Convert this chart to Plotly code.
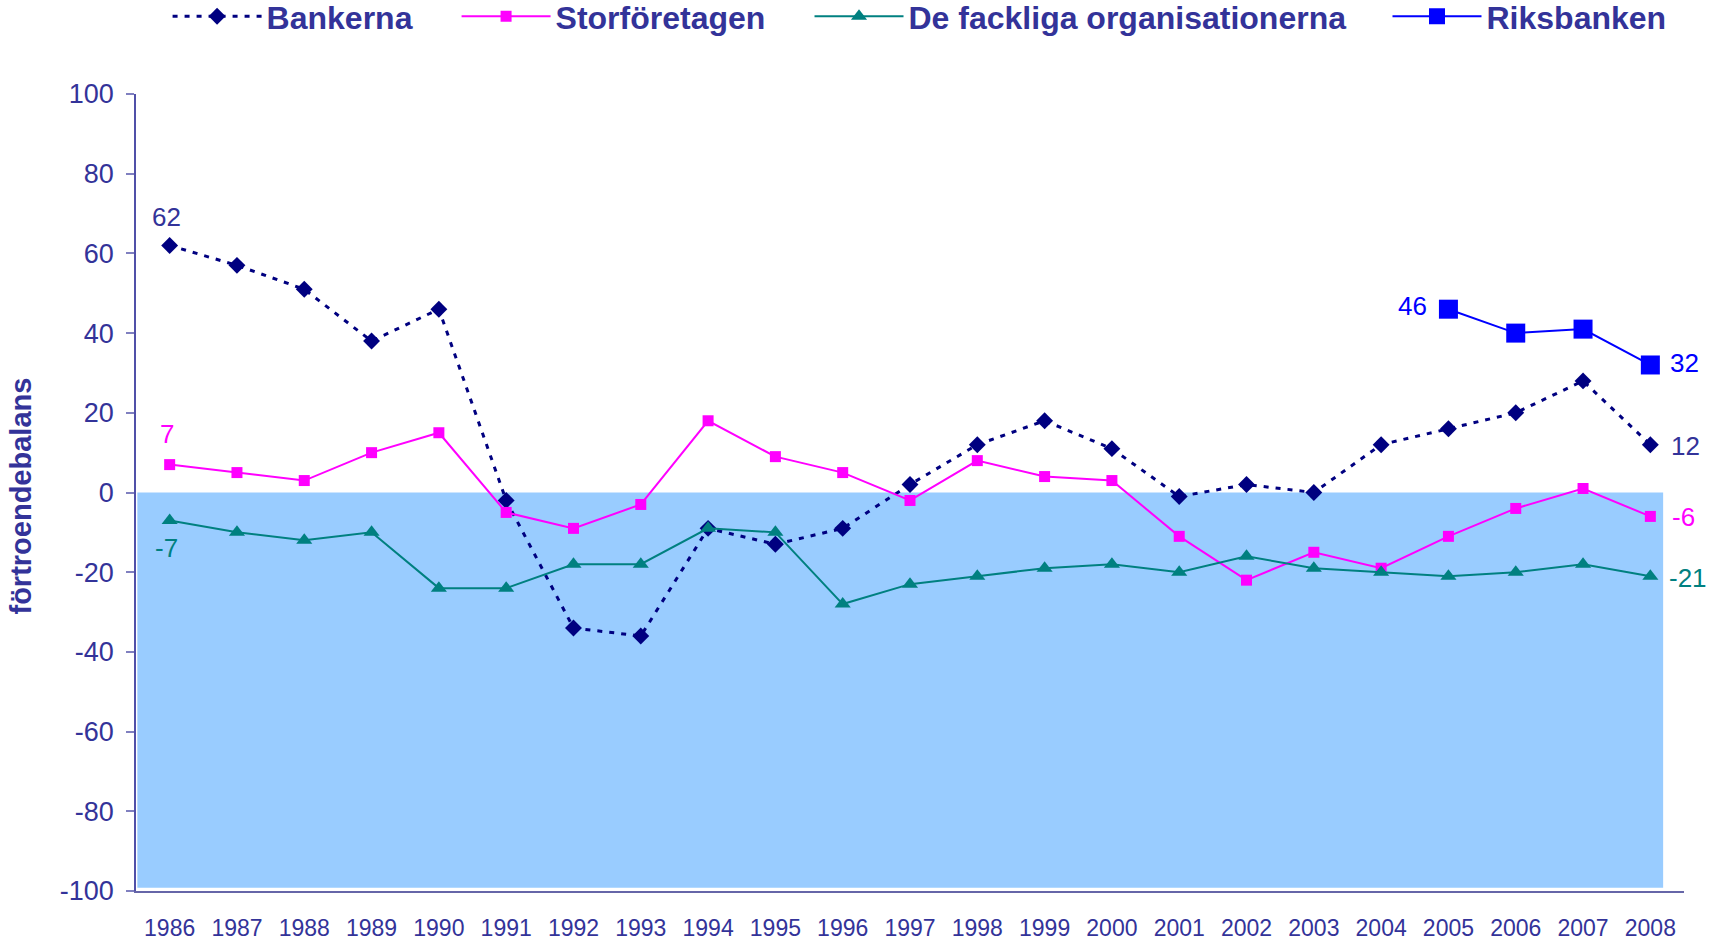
import plotly.graph_objects as go

years = list(range(1986, 2009))
bankerna = [62, 57, 51, 38, 46, -2, -34, -36, -9, -13, -9, 2, 12, 18, 11, -1, 2, 0, 12, 16, 20, 28, 12]
storforetagen = [7, 5, 3, 10, 15, -5, -9, -3, 18, 9, 5, -2, 8, 4, 3, -11, -22, -15, -19, -11, -4, 1, -6]
fackliga = [-7, -10, -12, -10, -24, -24, -18, -18, -9, -10, -28, -23, -21, -19, -18, -20, -16, -19, -20, -21, -20, -18, -21]
riks_years = [2005, 2006, 2007, 2008]
riksbanken = [46, 40, 41, 32]

y_ticks = [100, 80, 60, 40, 20, 0, -20, -40, -60, -80, -100]
y_ticktext = [str(v) for v in y_ticks]  # plain hyphen minus

C_TEXT = "#333399"
C_BANK = "#000080"
C_STOR = "#FF00FF"
C_FACK = "#008080"
C_RIKS = "#0000FF"
FONT = "Liberation Sans, Arial, sans-serif"

fig = go.Figure()

fig.add_trace(go.Scatter(
    x=years, y=bankerna, name="Bankerna", mode="lines+markers", legend="legend",
    line=dict(color=C_BANK, width=3, dash="5px,7px"),
    marker=dict(symbol="diamond", size=13, color=C_BANK)))
fig.add_trace(go.Scatter(
    x=years, y=storforetagen, name="Storföretagen", mode="lines+markers", legend="legend2",
    line=dict(color=C_STOR, width=2),
    marker=dict(symbol="square", size=11, color=C_STOR)))
fig.add_trace(go.Scatter(
    x=years, y=fackliga, name="De fackliga organisationerna", mode="lines+markers", legend="legend3",
    line=dict(color=C_FACK, width=2),
    marker=dict(symbol="triangle-up", size=14, color=C_FACK)))
fig.add_trace(go.Scatter(
    x=riks_years, y=riksbanken, name="Riksbanken", mode="lines+markers", legend="legend4",
    line=dict(color=C_RIKS, width=2),
    marker=dict(symbol="square", size=19, color=C_RIKS)))

# shaded negative region
fig.add_shape(type="rect", xref="x", yref="y", x0=1985.52, x1=2008.19, y0=-99.2, y1=0,
              fillcolor="#99CCFF", line=dict(width=0), layer="below")

def lab(x, y, text, color, xs=0, ys=0):
    fig.add_annotation(x=x, y=y, text=text, showarrow=False, xshift=xs, yshift=ys,
                       font=dict(size=26, color=color, family=FONT))

lab(years[0], bankerna[0], str(bankerna[0]), C_TEXT, xs=-3, ys=28)
lab(years[0], storforetagen[0], str(storforetagen[0]), C_STOR, xs=-3, ys=31)
lab(years[0], fackliga[0], str(fackliga[0]), C_FACK, xs=-3, ys=-28)
lab(riks_years[0], riksbanken[0], str(riksbanken[0]), C_RIKS, xs=-36, ys=3)
lab(riks_years[-1], riksbanken[-1], str(riksbanken[-1]), C_RIKS, xs=34, ys=2)
lab(years[-1], bankerna[-1], str(bankerna[-1]), C_TEXT, xs=35, ys=-1)
lab(years[-1], storforetagen[-1], str(storforetagen[-1]), C_STOR, xs=33, ys=-1)
lab(years[-1], fackliga[-1], str(fackliga[-1]), C_FACK, xs=38, ys=-2)

# y-axis title
fig.add_annotation(xref="paper", yref="paper", x=0, y=0.5, xshift=-116, yshift=-4,
                   text="<b>förtroendebalans</b>", textangle=-90, showarrow=False,
                   xanchor="center", yanchor="middle",
                   font=dict(size=29, color=C_TEXT, family=FONT))

def legend_at(x):
    return dict(orientation="h", xref="container", x=x, xanchor="left",
                yref="container", y=0.9825, yanchor="middle",
                font=dict(size=32, color=C_TEXT, family=FONT, weight="bold"),
                itemwidth=89, bgcolor="rgba(0,0,0,0)")

fig.update_layout(
    width=1710, height=941,
    paper_bgcolor="white", plot_bgcolor="white",
    margin=dict(l=136, r=26, t=94, b=50, autoexpand=False),
    font=dict(family=FONT, color=C_TEXT),
    showlegend=True,
    legend=legend_at(0.0980),
    legend2=legend_at(0.2670),
    legend3=legend_at(0.4734),
    legend4=legend_at(0.8114),
    xaxis=dict(range=[1985.5, 2008.5], tickmode="array", tickvals=years,
               ticktext=[str(y) for y in years], showgrid=False, zeroline=False,
               showline=True, linecolor="#6666A8", linewidth=2, ticks="",
               tickfont=dict(size=23, color=C_TEXT), ticklabelstandoff=15, automargin=False),
    yaxis=dict(range=[-100, 100], tickmode="array", tickvals=y_ticks, ticktext=y_ticktext,
               showgrid=False, zeroline=False, showline=True, linecolor="#5050A8", linewidth=1.5,
               ticks="outside", ticklen=8, tickcolor="#8080C0", tickwidth=1.5,
               tickfont=dict(size=27, color=C_TEXT), ticklabelstandoff=7, automargin=False),
)

fig.write_html(
    "out.html",
    config={"displayModeBar": False},
    post_script="document.documentElement.style.overflow='hidden';"
                "document.body.style.margin='0';document.body.style.overflow='hidden';",
)
